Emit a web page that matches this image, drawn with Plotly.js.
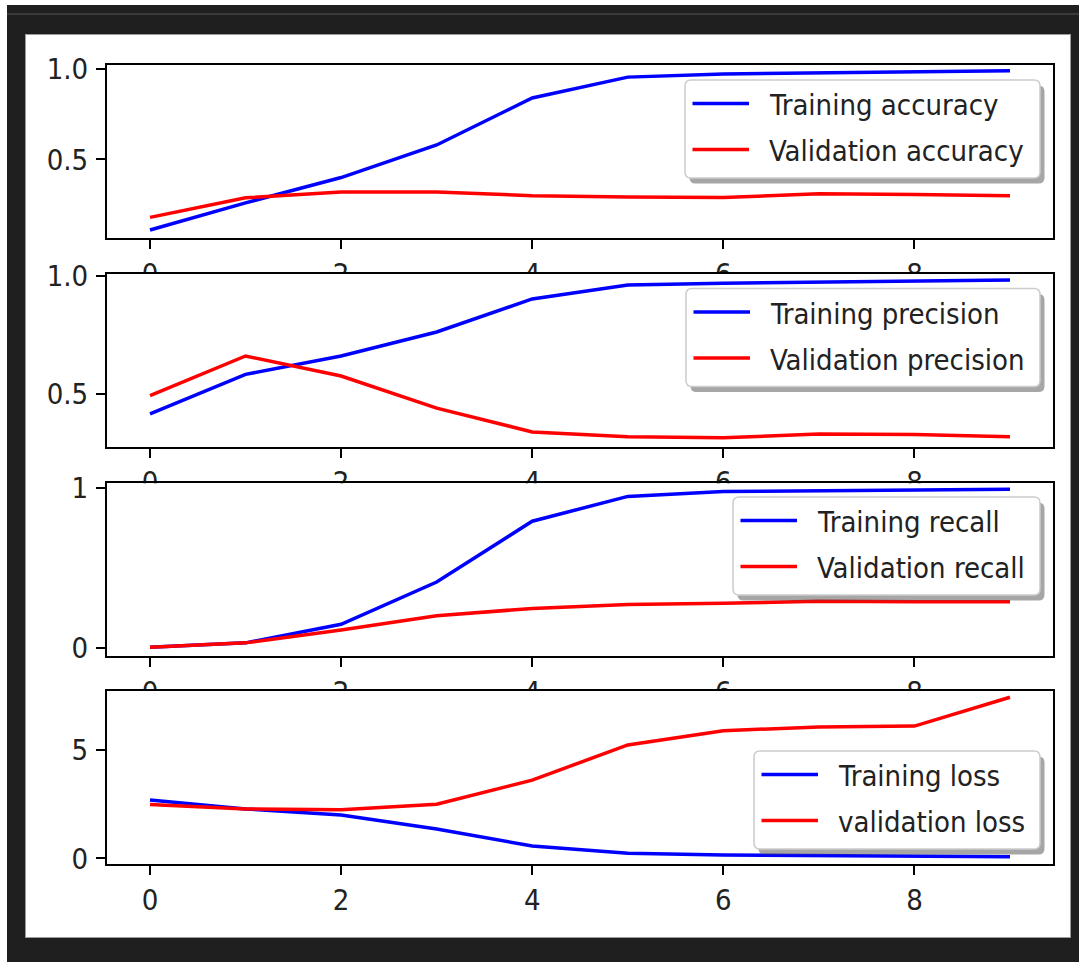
<!DOCTYPE html>
<html><head><meta charset="utf-8">
<script src="https://cdn.plot.ly/plotly-3.0.1.min.js"></script>
<style>
html,body{margin:0;padding:0;background:#fff;width:1079px;height:962px;overflow:hidden;}
#frame{position:absolute;left:7px;top:5px;width:1072px;height:957px;background:#1f1f1f;}
#topline{position:absolute;left:7px;top:13px;width:1072px;height:2px;background:#3a3a3a;}
#fig{position:absolute;left:25px;top:34px;width:1046px;height:904px;background:#fff;border:1px solid #9a9a9a;box-sizing:border-box;}
#chart{position:absolute;left:26px;top:35px;width:1044px;height:902px;}
</style></head>
<body>
<div id="frame"></div><div id="topline"></div><div id="fig"></div><div id="chart"></div>
<script>
// ---------------- data ----------------
const epochs = [0, 1, 2, 3, 4, 5, 6, 7, 8, 9];

const trainingAccuracy   = [0.11, 0.26, 0.40, 0.58, 0.84, 0.955, 0.972, 0.978, 0.984, 0.99];
const validationAccuracy = [0.18, 0.288, 0.32, 0.32, 0.30, 0.292, 0.29, 0.31, 0.306, 0.30];

const trainingPrecision   = [0.415, 0.583, 0.661, 0.763, 0.903, 0.962, 0.97, 0.974, 0.978, 0.983];
const validationPrecision = [0.493, 0.661, 0.576, 0.44, 0.339, 0.318, 0.314, 0.33, 0.328, 0.318];

const trainingRecall   = [0.003, 0.03, 0.146, 0.41, 0.79, 0.945, 0.975, 0.98, 0.985, 0.99];
const validationRecall = [0.003, 0.03, 0.11, 0.20, 0.245, 0.27, 0.277, 0.29, 0.287, 0.287];

const trainingLoss   = [2.69, 2.28, 2.0, 1.35, 0.57, 0.24, 0.15, 0.12, 0.10, 0.07];
const validationLoss = [2.49, 2.28, 2.24, 2.5, 3.61, 5.23, 5.89, 6.06, 6.1, 7.43];

const trainingNames   = ["Training accuracy", "Training precision", "Training recall", "Training loss"];
const validationNames = ["Validation accuracy", "Validation precision", "Validation recall", "validation loss"];

const xTickVals = [0, 2, 4, 6, 8];
const xTickText = ["0", "2", "4", "6", "8"];
const yTickVals = [[0.5, 1.0], [0.5, 1.0], [0, 1], [0, 5]];
const yTickText = [["0.5", "1.0"], ["0.5", "1.0"], ["0", "1"], ["0", "5"]];

// ---------------- styling / geometry ----------------
const trainSeries = [trainingAccuracy, trainingPrecision, trainingRecall, trainingLoss];
const valSeries = [validationAccuracy, validationPrecision, validationRecall, validationLoss];
const yRanges = [[0.066, 1.022], [0.277, 1.011], [-0.054, 1.027], [-0.26, 7.72]];
const xRange = [-0.45, 9.45];

const FONT = "DejaVu Sans Condensed, DejaVu Sans, sans-serif";
const TXT = "#222";
const BLUE = "#0000ff", RED = "#ff0000";
const LW = 3.5;

// page-pixel -> paper conversion (chart div at 26,35; plot area 107..1053 x 65..864)
const PL = 107, PW = 946, PB = 864, PH = 799;
const px = p => (p - PL) / PW;
const py = p => (PB - p) / PH;

const axTops = [65, 273.5, 483.3, 691];
const axH = 173;

const legendBoxes = [
  {left: 685, top: 80},
  {left: 686, top: 288.5},
  {left: 733, top: 497},
  {left: 754, top: 751}
];
const LEG_RIGHT = 1040, LEG_H = 98;

const traces = [];
// dummy full-paper subplot so every real subplot draws its own background
traces.push({x: [], y: [], xaxis: 'x', yaxis: 'y', showlegend: false, hoverinfo: 'skip', type: 'scatter'});

const layout = {
  width: 1044, height: 902,
  margin: {l: 81, r: 17, t: 30, b: 73, pad: 0},
  paper_bgcolor: '#fff', plot_bgcolor: '#fff',
  showlegend: false,
  font: {family: FONT, size: 29, color: TXT},
  xaxis: {domain: [0, 1], visible: false, range: [0, 1], fixedrange: true},
  yaxis: {domain: [0, 1], visible: false, range: [0, 1], fixedrange: true},
  shapes: [], annotations: []
};

function rrectPath(x0, y0, x1, y1, r) {
  const rx = r / PW, ry = r / PH;
  const X0 = px(x0), X1 = px(x1), Y0 = py(y0), Y1 = py(y1);
  return `M${X0 + rx},${Y0} L${X1 - rx},${Y0} Q${X1},${Y0} ${X1},${Y0 - ry} ` +
         `L${X1},${Y1 + ry} Q${X1},${Y1} ${X1 - rx},${Y1} ` +
         `L${X0 + rx},${Y1} Q${X0},${Y1} ${X0},${Y1 + ry} ` +
         `L${X0},${Y0 - ry} Q${X0},${Y0} ${X0 + rx},${Y0} Z`;
}

for (let i = 0; i < 4; i++) {
  const n = i + 2;
  const xa = 'x' + n, ya = 'y' + n;
  traces.push({x: epochs, y: trainSeries[i], name: trainingNames[i], xaxis: xa, yaxis: ya,
    type: 'scatter', mode: 'lines', line: {color: BLUE, width: LW}, showlegend: false});
  traces.push({x: epochs, y: valSeries[i], name: validationNames[i], xaxis: xa, yaxis: ya,
    type: 'scatter', mode: 'lines', line: {color: RED, width: LW}, showlegend: false});

  const top = axTops[i], bot = top + axH;
  const common = {
    showline: true, mirror: true, linecolor: '#000', linewidth: 2,
    ticks: 'outside', ticklen: 9, tickwidth: 2, tickcolor: '#000',
    showgrid: false, zeroline: false, fixedrange: true,
    tickfont: {family: FONT, size: 29, color: TXT}
  };
  layout['xaxis' + n] = Object.assign({}, common, {
    domain: [0, 1], anchor: ya, range: xRange,
    tickmode: 'array', tickvals: xTickVals, ticktext: xTickText
  });
  layout['yaxis' + n] = Object.assign({}, common, {
    domain: [py(bot), py(top)], anchor: xa, range: yRanges[i],
    tickmode: 'array', tickvals: yTickVals[i], ticktext: yTickText[i],
    ticklabelstandoff: 2
  });

  // legend (matplotlib-style box with shadow)
  const lb = legendBoxes[i];
  const lt = lb.top, lbot = lb.top + LEG_H;
  layout.shapes.push({type: 'path', xref: 'paper', yref: 'paper', layer: 'above',
    path: rrectPath(lb.left + 4.5, lt + 5.5, LEG_RIGHT + 4.5, lbot + 5.5, 6),
    fillcolor: 'rgba(77,77,77,0.5)', line: {width: 0}});
  layout.shapes.push({type: 'path', xref: 'paper', yref: 'paper', layer: 'above',
    path: rrectPath(lb.left, lt, LEG_RIGHT, lbot, 6),
    fillcolor: '#fff', line: {color: '#cccccc', width: 1.5}});
  const rows = [[trainingNames[i], BLUE, lt + 23.5], [validationNames[i], RED, lt + 69.5]];
  rows.forEach(([label, col, yy]) => {
    layout.shapes.push({type: 'line', xref: 'paper', yref: 'paper', layer: 'above',
      x0: px(lb.left + 7.5), x1: px(lb.left + 64), y0: py(yy), y1: py(yy),
      line: {color: col, width: LW}});
    layout.annotations.push({xref: 'paper', yref: 'paper', x: px(lb.left + 82), y: py(yy + 1.5),
      xanchor: 'left', yanchor: 'middle', showarrow: false, text: label,
      font: {family: FONT, size: 29, color: TXT}});
  });
}

Plotly.newPlot('chart', traces, layout, {displayModeBar: false, staticPlot: true});
</script>
</body></html>
